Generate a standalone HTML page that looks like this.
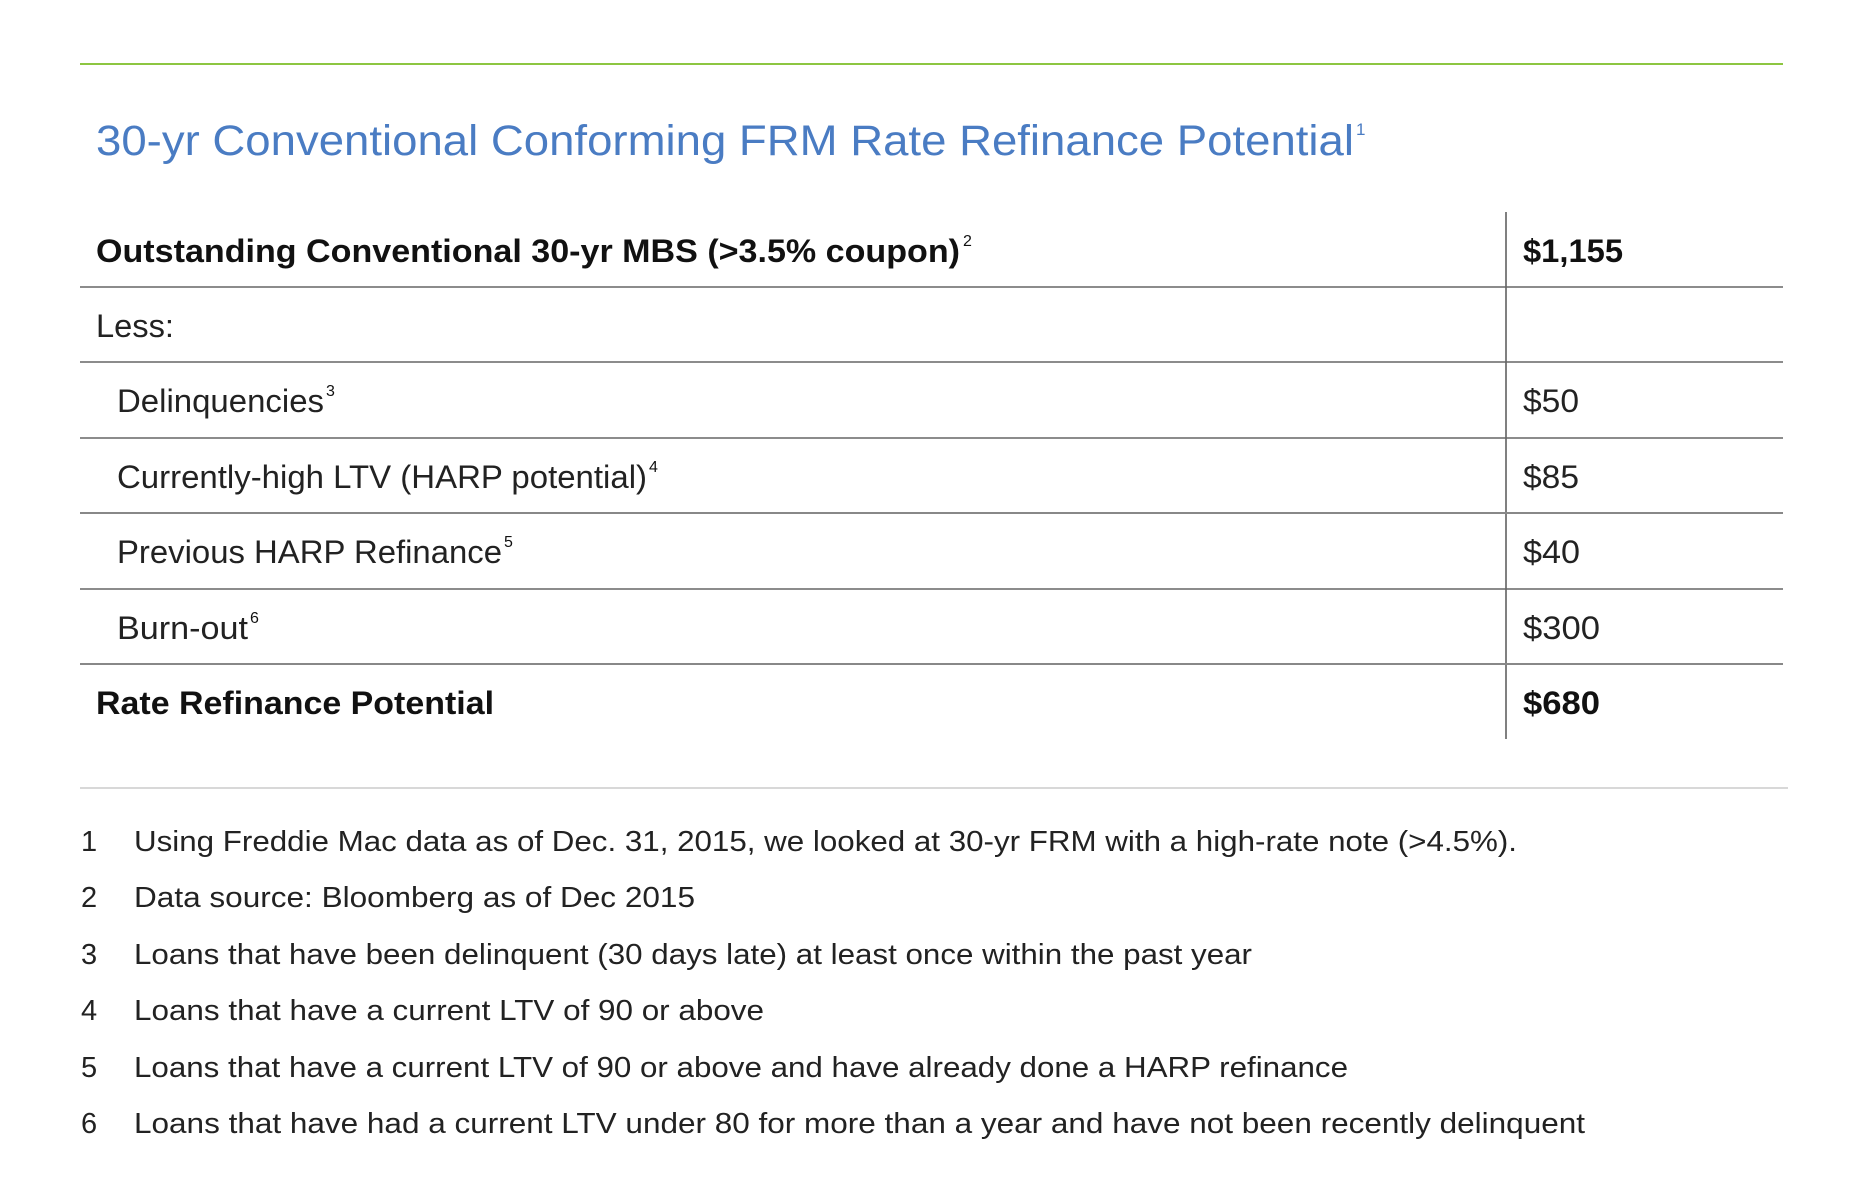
<!DOCTYPE html>
<html><head><meta charset="utf-8"><style>
html,body{margin:0;padding:0;background:#fff;}
svg{display:block;font-family:"Liberation Sans",Arial,sans-serif;}
</style></head><body>
<svg width="1864" height="1196" viewBox="0 0 1864 1196" xmlns="http://www.w3.org/2000/svg">
<line x1="80" y1="64" x2="1783" y2="64" stroke="#8dc641" stroke-width="2"/>
<text x="96" y="155" font-size="43" fill="#4a7cc3" textLength="1258" lengthAdjust="spacingAndGlyphs">30-yr Conventional Conforming FRM Rate Refinance Potential</text>
<text x="1356" y="135" font-size="17" fill="#4a7cc3">1</text>

<g stroke="#666" stroke-width="1.5">
<line x1="1506" y1="212" x2="1506" y2="739" stroke="#808080" stroke-width="2"/>
<line x1="80" y1="287" x2="1783" y2="287"/>
<line x1="80" y1="362" x2="1783" y2="362"/>
<line x1="80" y1="438" x2="1783" y2="438"/>
<line x1="80" y1="513" x2="1783" y2="513" stroke="#888" stroke-width="2"/>
<line x1="80" y1="589" x2="1783" y2="589"/>
<line x1="80" y1="664" x2="1783" y2="664" stroke="#888" stroke-width="2"/>
</g>

<g font-size="32" fill="#111">
<text x="96" y="262" font-weight="bold" textLength="864" lengthAdjust="spacingAndGlyphs">Outstanding Conventional 30-yr MBS (&gt;3.5% coupon)</text>
<text x="963" y="246" font-size="16">2</text>
<text x="96" y="337" fill="#222" textLength="78" lengthAdjust="spacingAndGlyphs">Less:</text>
<text x="117" y="412" fill="#222" textLength="207" lengthAdjust="spacingAndGlyphs">Delinquencies</text>
<text x="326" y="396" font-size="16">3</text>
<text x="117" y="488" fill="#222" textLength="530" lengthAdjust="spacingAndGlyphs">Currently-high LTV (HARP potential)</text>
<text x="649" y="472" font-size="16">4</text>
<text x="117" y="563" fill="#222" textLength="385" lengthAdjust="spacingAndGlyphs">Previous HARP Refinance</text>
<text x="504" y="547" font-size="16">5</text>
<text x="117" y="639" fill="#222" textLength="131" lengthAdjust="spacingAndGlyphs">Burn-out</text>
<text x="250" y="623" font-size="16">6</text>
<text x="96" y="714" font-weight="bold" textLength="398" lengthAdjust="spacingAndGlyphs">Rate Refinance Potential</text>
</g>

<g font-size="32" fill="#111">
<text x="1523" y="262" font-weight="bold" textLength="100" lengthAdjust="spacingAndGlyphs">$1,155</text>
<text x="1523" y="412" fill="#222" textLength="56" lengthAdjust="spacingAndGlyphs">$50</text>
<text x="1523" y="488" fill="#222" textLength="56" lengthAdjust="spacingAndGlyphs">$85</text>
<text x="1523" y="563" fill="#222" textLength="57" lengthAdjust="spacingAndGlyphs">$40</text>
<text x="1523" y="639" fill="#222" textLength="77" lengthAdjust="spacingAndGlyphs">$300</text>
<text x="1523" y="714" font-weight="bold" textLength="77" lengthAdjust="spacingAndGlyphs">$680</text>
</g>

<line x1="80" y1="788" x2="1788" y2="788" stroke="#ccc" stroke-width="1.5"/>

<g font-size="29" fill="#222">
<text x="81" y="851">1</text>
<text x="134" y="851" textLength="1383" lengthAdjust="spacingAndGlyphs">Using Freddie Mac data as of Dec. 31, 2015, we looked at 30-yr FRM with a high-rate note (&gt;4.5%).</text>
<text x="81" y="907">2</text>
<text x="134" y="907" textLength="561" lengthAdjust="spacingAndGlyphs">Data source: Bloomberg as of Dec 2015</text>
<text x="81" y="964">3</text>
<text x="134" y="964" textLength="1118" lengthAdjust="spacingAndGlyphs">Loans that have been delinquent (30 days late) at least once within the past year</text>
<text x="81" y="1020">4</text>
<text x="134" y="1020" textLength="630" lengthAdjust="spacingAndGlyphs">Loans that have a current LTV of 90 or above</text>
<text x="81" y="1077">5</text>
<text x="134" y="1077" textLength="1214" lengthAdjust="spacingAndGlyphs">Loans that have a current LTV of 90 or above and have already done a HARP refinance</text>
<text x="81" y="1133">6</text>
<text x="134" y="1133" textLength="1451" lengthAdjust="spacingAndGlyphs">Loans that have had a current LTV under 80 for more than a year and have not been recently delinquent</text>
</g>
</svg>
</body></html>
